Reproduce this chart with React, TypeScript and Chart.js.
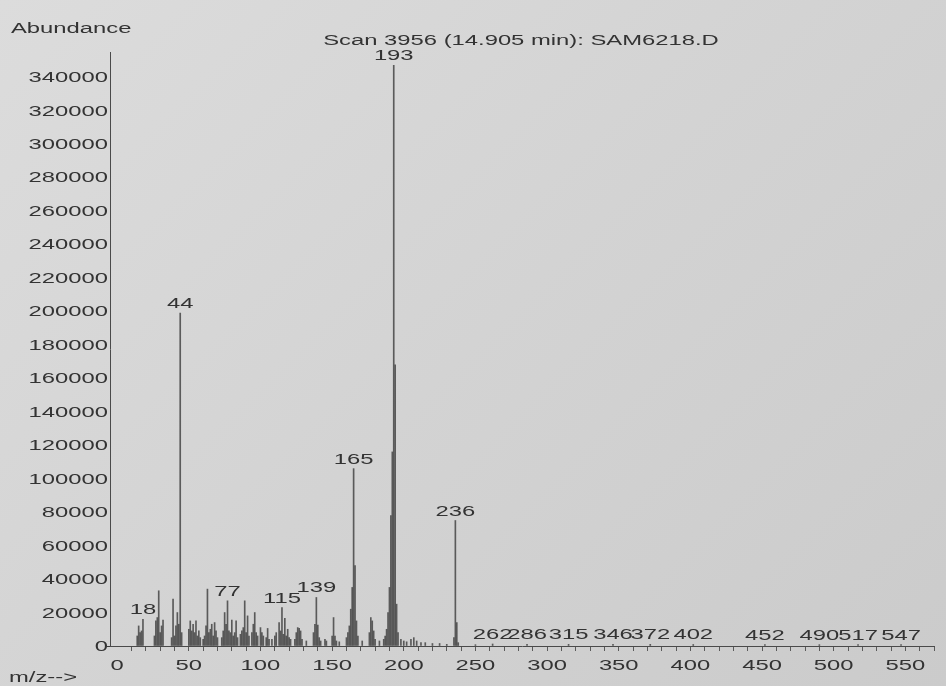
import { useEffect, useRef } from "react";
import { Chart, registerables } from "chart.js";

Chart.register(...registerables);

// m/z values of the peaks and their abundances
const mzValues = [
  14, 15, 16, 17, 18, 26, 27, 28, 29, 30, 31, 32, 38, 39, 40, 41, 42, 43, 44, 45,
  50, 51, 52, 53, 54, 55, 56, 57, 58, 60, 61, 62, 63, 64, 65, 66, 67, 68, 69, 70,
  73, 74, 75, 76, 77, 78, 79, 80, 81, 82, 83, 84, 86, 87, 88, 89, 90, 91, 92, 94,
  95, 96, 97, 98, 100, 101, 102, 104, 105, 106, 108, 110, 111, 113, 114, 115, 116, 117, 118, 119,
  120, 121, 124, 125, 126, 127, 128, 129, 132, 137, 138, 139, 140, 141, 142, 145, 146, 150, 151, 152,
  153, 155, 160, 161, 162, 163, 164, 165, 166, 167, 168, 171, 176, 177, 178, 179, 180, 183, 186, 187,
  188, 189, 190, 191, 192, 193, 194, 195, 196, 198, 200, 202, 205, 207, 209, 212, 215, 220, 225, 230,
  235, 236, 237, 238, 250, 262, 286, 315, 346, 372, 402, 452, 490, 517, 547,
];
const abundances = [
  6000, 12000, 8000, 9000, 16000, 6000, 15000, 17000, 33000, 8000, 12000, 15500, 5000, 28000, 6000, 12000, 20000, 13000, 199000, 8000,
  10000, 15000, 9000, 13000, 8000, 15000, 6000, 9000, 5000, 4000, 6000, 12000, 34000, 8000, 10000, 13000, 6000, 14000, 9000, 5000,
  5000, 9000, 20000, 13000, 27000, 9000, 8000, 15500, 6000, 8000, 15000, 5000, 7000, 9000, 11000, 27000, 8000, 18000, 6000, 8000,
  13000, 20000, 8000, 6000, 11000, 8000, 6000, 5000, 10500, 4000, 4000, 6000, 8000, 14000, 9000, 23000, 7000, 16500, 6000, 10000,
  5000, 4000, 4000, 8000, 11000, 10500, 9000, 4000, 3000, 8000, 13000, 29000, 12500, 5000, 3000, 4000, 3000, 6000, 17000, 6000,
  3000, 2500, 5000, 8000, 12000, 22000, 35000, 106000, 48000, 15000, 6000, 3000, 8000, 17000, 15000, 9000, 4000, 3000, 4000, 6000,
  10000, 20000, 35000, 78000, 116000, 347000, 168000, 25000, 8000, 4000, 3000, 2500, 4000, 5000, 3000, 2000, 2000, 1500, 1500, 1000,
  5000, 75000, 14000, 2000, 800, 1200, 1000, 1000, 1000, 1000, 900, 800, 800, 800, 800,
];
const labeledPeaks = [18, 44, 77, 115, 139, 165, 193, 236, 262, 286, 315, 346, 372, 402, 452, 490, 517, 547];
const yTickLabels = [0, 20000, 40000, 60000, 80000, 100000, 120000, 140000, 160000, 180000, 200000, 220000, 240000, 260000, 280000, 300000, 320000, 340000];
const xTickLabels = [0, 50, 100, 150, 200, 250, 300, 350, 400, 450, 500, 550];
const titleText = "Scan 3956 (14.905 min): SAM6218.D";
const yAxisTitle = "Abundance";
const xAxisTitle = "m/z-->";

const FONT = '14px "Liberation Sans", Arial, sans-serif';
const TEXT_COLOR = "#333333";
const SX = 1.7;

function wideText(ctx: CanvasRenderingContext2D, text: string, x: number, y: number, align: CanvasTextAlign) {
  ctx.save();
  ctx.translate(x, y);
  ctx.scale(SX, 1);
  ctx.font = FONT;
  ctx.fillStyle = TEXT_COLOR;
  ctx.textAlign = align;
  ctx.textBaseline = "alphabetic";
  ctx.fillText(text, 0, 0);
  ctx.restore();
}

const textPlugin = {
  id: "spectrumText",
  afterDraw(chart: any) {
    const ctx = chart.ctx as CanvasRenderingContext2D;
    const xs = chart.scales.x;
    const ys = chart.scales.y;
    const area = chart.chartArea;
    yTickLabels.forEach((v) => {
      wideText(ctx, String(v), area.left - 2, ys.getPixelForValue(v) + 5, "right");
    });
    xTickLabels.forEach((v) => {
      wideText(ctx, String(v), xs.getPixelForValue(v), area.bottom + 24, "center");
    });
    labeledPeaks.forEach((m) => {
      const i = mzValues.indexOf(m);
      if (i < 0) return;
      wideText(ctx, String(m), xs.getPixelForValue(m), ys.getPixelForValue(abundances[i]) - 5, "center");
    });
    wideText(ctx, titleText, 521, 45, "center");
    wideText(ctx, yAxisTitle, 11, 33, "left");
    wideText(ctx, xAxisTitle, 9, 682, "left");
  },
};

export default function App() {
  const ref = useRef<HTMLCanvasElement | null>(null);
  useEffect(() => {
    if (!ref.current) return;
    const chart = new Chart(ref.current, {
      type: "bar",
      data: {
        datasets: [
          {
            data: mzValues.map((m, i) => ({ x: m, y: abundances[i] })),
            backgroundColor: "rgba(60,60,60,0.8)",
            borderWidth: 0,
            barThickness: 1,
          },
        ],
      },
      options: {
        animation: false,
        responsive: false,
        maintainAspectRatio: false,
        layout: { padding: { left: 0, top: 52, right: 12, bottom: 0 } },
        plugins: { legend: { display: false }, tooltip: { enabled: false }, title: { display: false } },
        scales: {
          x: {
            type: "linear",
            min: -5,
            max: 570,
            offset: false,
            ticks: { display: false, stepSize: 10 },
            afterBuildTicks: (scale: any) => {
              scale.ticks = scale.ticks.filter((t: any) => t.value >= 0 && t.value % 10 === 0);
            },
            afterFit: (scale: any) => {
              scale.height = 40;
            },
            grid: { display: true, drawOnChartArea: false, drawTicks: true, tickLength: 5, color: "#5a5a5a", offset: false },
            border: { display: true, color: "#4a4a4a", width: 1 },
          },
          y: {
            type: "linear",
            min: 0,
            max: 355000,
            ticks: { display: false, stepSize: 4000 },
            afterBuildTicks: (scale: any) => {
              scale.ticks = scale.ticks.filter((t: any) => t.value % 4000 === 0);
            },
            afterFit: (scale: any) => {
              scale.width = 110;
            },
            grid: {
              display: true,
              drawOnChartArea: false,
              drawTicks: true,
              tickLength: 3,
              tickColor: (c: any) => (c.tick && c.tick.value % 20000 === 0 ? "#3a3a3a" : "#7a7a7a"),
              color: "#5a5a5a",
            },
            border: { display: true, color: "#4a4a4a", width: 1 },
          },
        },
      },
      plugins: [textPlugin],
    } as any);
    return () => chart.destroy();
  }, []);

  return (
    <div
      style={{
        position: "fixed",
        left: 0,
        top: 0,
        width: 946,
        height: 686,
        background: "linear-gradient(135deg, #dcdcdc 0%, #d3d3d3 50%, #cbcbcb 100%)",
      }}
    >
      <canvas ref={ref} width={946} height={686} style={{ display: "block" }} />
    </div>
  );
}
